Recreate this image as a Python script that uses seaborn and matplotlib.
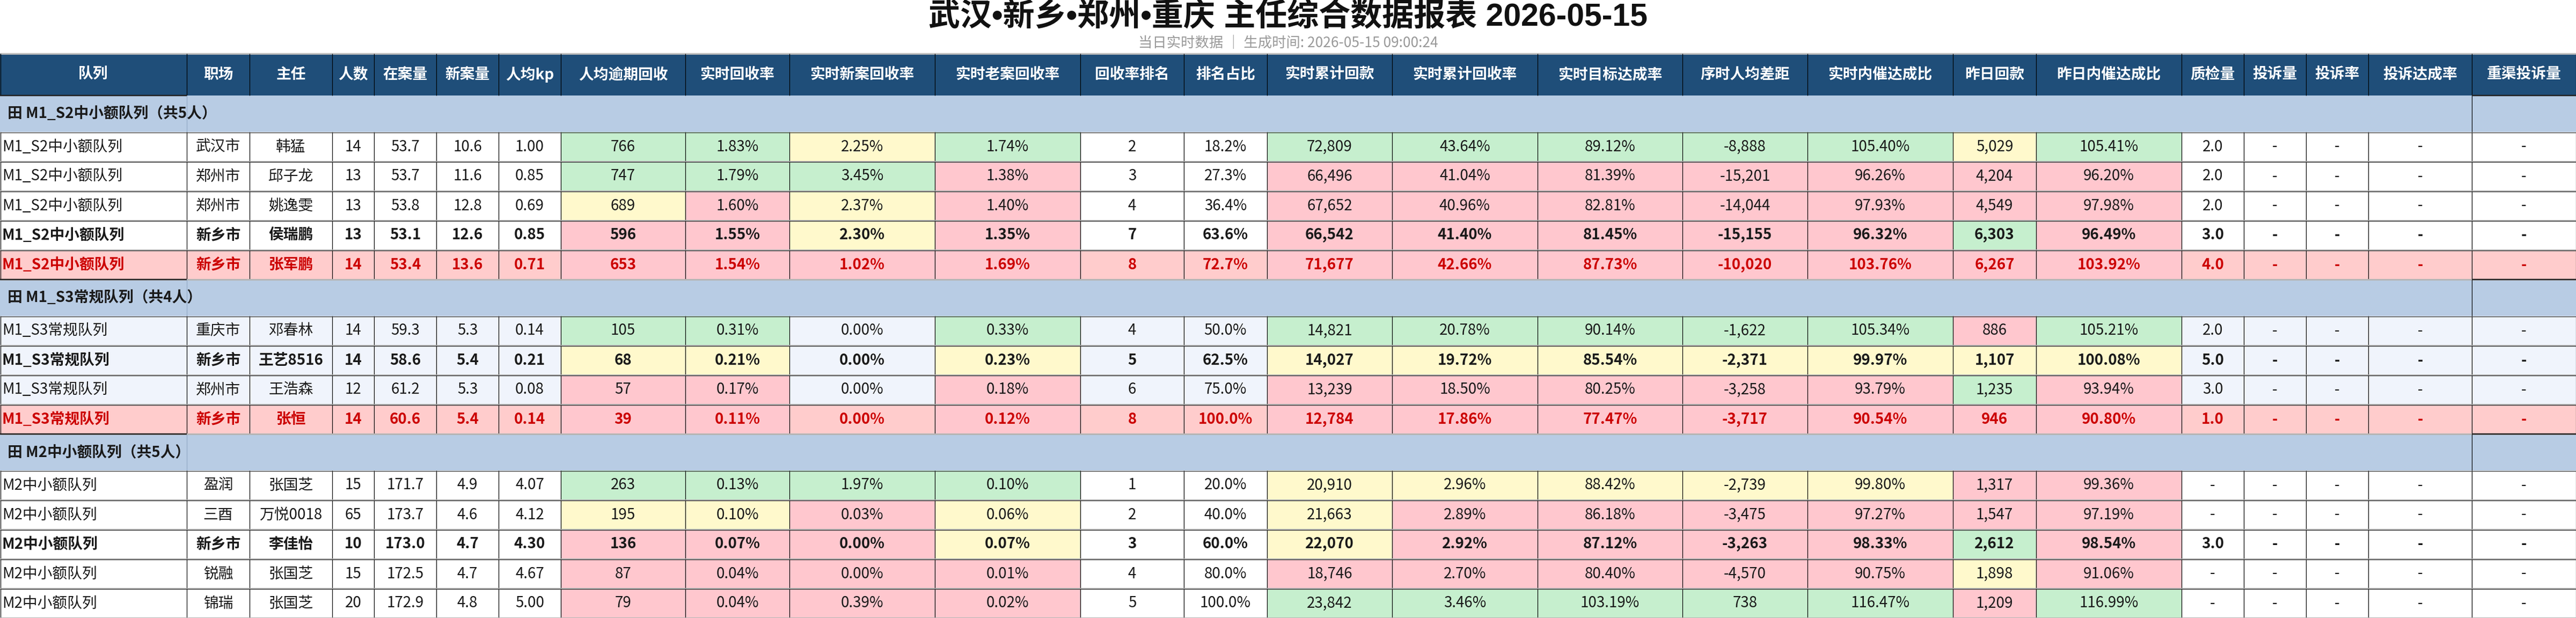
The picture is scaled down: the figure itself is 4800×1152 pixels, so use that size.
import numpy as np
import matplotlib
matplotlib.use("Agg")
import matplotlib.pyplot as plt
import seaborn as sns
from matplotlib.colors import ListedColormap

sns.set_theme(style="white")
plt.rcParams['font.family'] = ['Noto Sans CJK SC', 'DejaVu Sans']

# ---------------- data ----------------
title = "武汉•新乡•郑州•重庆 主任综合数据报表 2026-05-15"
subtitle = "当日实时数据 │ 生成时间: 2026-05-15 09:00:24"

columns = ["队列", "职场", "主任", "人数", "在案量", "新案量", "人均kp", "人均逾期回收",
           "实时回收率", "实时新案回收率", "实时老案回收率", "回收率排名", "排名占比",
           "实时累计回款", "实时累计回收率", "实时目标达成率", "序时人均差距",
           "实时内催达成比", "昨日回款", "昨日内催达成比", "质检量", "投诉量",
           "投诉率", "投诉达成率", "重渠投诉量"]

groups = ["M1_S2中小额队列", "M1_S3常规队列", "M2中小额队列"]
group_sizes = [5, 4, 5]

team = ["M1_S2中小额队列"] * 5 + ["M1_S3常规队列"] * 4 + ["M2中小额队列"] * 5
site = ["武汉市", "郑州市", "郑州市", "新乡市", "新乡市",
        "重庆市", "新乡市", "郑州市", "新乡市",
        "盈润", "三酉", "新乡市", "锐融", "锦瑞"]
leader = ["韩猛", "邱子龙", "姚逸雯", "侯瑞鹏", "张军鹏",
          "邓春林", "王艺8516", "王浩森", "张恒",
          "张国芝", "万悦0018", "李佳怡", "张国芝", "张国芝"]
headcount = [14, 13, 13, 13, 14, 14, 14, 12, 14, 15, 65, 10, 15, 20]
caseload = [53.7, 53.7, 53.8, 53.1, 53.4, 59.3, 58.6, 61.2, 60.6, 171.7, 173.7, 173.0, 172.5, 172.9]
new_cases = [10.6, 11.6, 12.8, 12.6, 13.6, 5.3, 5.4, 5.3, 5.4, 4.9, 4.6, 4.7, 4.7, 4.8]
kp = [1.00, 0.85, 0.69, 0.85, 0.71, 0.14, 0.21, 0.08, 0.14, 4.07, 4.12, 4.30, 4.67, 5.00]
overdue = [766, 747, 689, 596, 653, 105, 68, 57, 39, 263, 195, 136, 87, 79]
rate = [1.83, 1.79, 1.60, 1.55, 1.54, 0.31, 0.21, 0.17, 0.11, 0.13, 0.10, 0.07, 0.04, 0.04]
new_rate = [2.25, 3.45, 2.37, 2.30, 1.02, 0.00, 0.00, 0.00, 0.00, 1.97, 0.03, 0.00, 0.00, 0.39]
old_rate = [1.74, 1.38, 1.40, 1.35, 1.69, 0.33, 0.23, 0.18, 0.12, 0.10, 0.06, 0.07, 0.01, 0.02]
rank = [2, 3, 4, 7, 8, 4, 5, 6, 8, 1, 2, 3, 4, 5]
rank_pct = [18.2, 27.3, 36.4, 63.6, 72.7, 50.0, 62.5, 75.0, 100.0, 20.0, 40.0, 60.0, 80.0, 100.0]
cum_pay = [72809, 66496, 67652, 66542, 71677, 14821, 14027, 13239, 12784, 20910, 21663, 22070, 18746, 23842]
cum_rate = [43.64, 41.04, 40.96, 41.40, 42.66, 20.78, 19.72, 18.50, 17.86, 2.96, 2.89, 2.92, 2.70, 3.46]
target_rate = [89.12, 81.39, 82.81, 81.45, 87.73, 90.14, 85.54, 80.25, 77.47, 88.42, 86.18, 87.12, 80.40, 103.19]
gap = [-8888, -15201, -14044, -15155, -10020, -1622, -2371, -3258, -3717, -2739, -3475, -3263, -4570, 738]
inner_ratio = [105.40, 96.26, 97.93, 96.32, 103.76, 105.34, 99.97, 93.79, 90.54, 99.80, 97.27, 98.33, 90.75, 116.47]
yday_pay = [5029, 4204, 4549, 6303, 6267, 886, 1107, 1235, 946, 1317, 1547, 2612, 1898, 1209]
yday_ratio = [105.41, 96.20, 97.98, 96.49, 103.92, 105.21, 100.08, 93.94, 90.80, 99.36, 97.19, 98.54, 91.06, 116.99]
qc = [2.0, 2.0, 2.0, 3.0, 4.0, 2.0, 5.0, 3.0, 1.0, None, None, 3.0, None, None]
complaints = [None] * 14
complaint_rate = [None] * 14
complaint_target = [None] * 14
rechannel_complaints = [None] * 14

# row emphasis: b = bold (新乡市), r = red highlight
emphasis = ["", "", "", "b", "r", "", "b", "", "r", "", "", "b", "", ""]

# conditional-format grades per column (G good, Y middle, P poor, N none)
grade_overdue = ["G", "G", "Y", "P", "P", "G", "Y", "P", "P", "G", "Y", "P", "P", "P"]
grade_rate = ["G", "G", "P", "P", "P", "G", "Y", "P", "P", "G", "Y", "P", "P", "P"]
grade_new_rate = ["Y", "G", "Y", "Y", "P", "N", "N", "N", "N", "G", "P", "P", "P", "P"]
grade_old_rate = ["G", "P", "P", "P", "P", "G", "Y", "P", "P", "G", "Y", "Y", "P", "P"]
grade_cum_pay = ["G", "P", "P", "P", "P", "G", "Y", "P", "P", "Y", "Y", "Y", "P", "G"]
grade_cum_rate = ["G", "P", "P", "P", "P", "G", "Y", "P", "P", "Y", "P", "P", "P", "G"]
grade_target = ["G", "P", "P", "P", "P", "G", "Y", "P", "P", "Y", "P", "P", "P", "G"]
grade_gap = ["G", "P", "P", "P", "P", "G", "Y", "P", "P", "Y", "P", "P", "P", "G"]
grade_inner = ["G", "P", "P", "P", "P", "G", "Y", "P", "P", "Y", "P", "P", "P", "G"]
grade_yday_pay = ["Y", "P", "P", "G", "P", "P", "Y", "G", "P", "P", "P", "G", "Y", "P"]
grade_yday_ratio = ["G", "P", "P", "P", "P", "G", "Y", "P", "P", "P", "P", "P", "P", "G"]

# ---------------- layout / style ----------------
col_widths = [348, 117, 154, 78, 116, 116, 116, 232, 194, 271, 271, 193, 155, 233,
              271, 270, 233, 271, 155, 271, 116, 116, 116, 193, 194]
W, H = 4800, 1152
TOP, HEAD_H, GROUP_H, ROW_H = 100, 78, 68, 55

C_HEAD = "#1F4E79"
C_GROUP = "#B8CCE4"
C_WHITE = "#FFFFFF"
C_ALT = "#F0F4FC"
C_REDROW = "#FFCCCC"
C_G, C_Y, C_P = "#C6EFCE", "#FFF9CC", "#FFC7CE"
TXT = "#1A1A1A"
RED = "#CC0000"
palette = [C_HEAD, C_GROUP, C_WHITE, C_ALT, C_REDROW, C_G, C_Y, C_P]
pidx = {c: i for i, c in enumerate(palette)}
grade_col = {"G": C_G, "Y": C_Y, "P": C_P}

FS = 20
px = 0.72  # points per pixel at dpi 100


def pct2(v):
    return f"{v:.2f}%"


def dash(v, fmt):
    return "-" if v is None else fmt(v)


cells = [
    (team, None, lambda v: v),
    (site, None, lambda v: v),
    (leader, None, lambda v: v),
    (headcount, None, lambda v: f"{v}"),
    (caseload, None, lambda v: f"{v:.1f}"),
    (new_cases, None, lambda v: f"{v:.1f}"),
    (kp, None, lambda v: f"{v:.2f}"),
    (overdue, grade_overdue, lambda v: f"{v}"),
    (rate, grade_rate, pct2),
    (new_rate, grade_new_rate, pct2),
    (old_rate, grade_old_rate, pct2),
    (rank, None, lambda v: f"{v}"),
    (rank_pct, None, lambda v: f"{v:.1f}%"),
    (cum_pay, grade_cum_pay, lambda v: f"{v:,}"),
    (cum_rate, grade_cum_rate, pct2),
    (target_rate, grade_target, pct2),
    (gap, grade_gap, lambda v: f"{v:,}"),
    (inner_ratio, grade_inner, pct2),
    (yday_pay, grade_yday_pay, lambda v: f"{v:,}"),
    (yday_ratio, grade_yday_ratio, pct2),
    (qc, None, lambda v: dash(v, lambda x: f"{x:.1f}")),
    (complaints, None, lambda v: dash(v, str)),
    (complaint_rate, None, lambda v: dash(v, str)),
    (complaint_target, None, lambda v: dash(v, str)),
    (rechannel_complaints, None, lambda v: dash(v, str)),
]

x_edges = np.concatenate([[0], np.cumsum(col_widths)]).astype(float)
x_edges[-1] = W
ncol = len(columns)

# build row structure
rows = [("header", None)]
k = 0
for gi, (g, n) in enumerate(zip(groups, group_sizes)):
    rows.append(("group", gi))
    for _ in range(n):
        rows.append(("data", (k, gi)))
        k += 1
heights = [HEAD_H if r[0] == "header" else GROUP_H if r[0] == "group" else ROW_H for r in rows]
y_edges = TOP + np.concatenate([[0], np.cumsum(heights)])

C = np.zeros((len(rows), ncol), dtype=int)
for ri, (kind, info) in enumerate(rows):
    if kind == "header":
        C[ri, :] = pidx[C_HEAD]
    elif kind == "group":
        C[ri, :] = pidx[C_GROUP]
    else:
        i, gi = info
        base = C_ALT if gi % 2 == 1 else C_WHITE
        if emphasis[i] == "r":
            base = C_REDROW
        for j, (vals, grades, fmt) in enumerate(cells):
            col = base
            if grades is not None and grades[i] != "N":
                col = C_P if emphasis[i] == "r" else grade_col[grades[i]]
            C[ri, j] = pidx[col]

fig = plt.figure(figsize=(W / 100, H / 100), dpi=100)
ax = fig.add_axes([0, 0, 1, 1])
ax.pcolormesh(x_edges, y_edges, C, cmap=ListedColormap(palette),
              vmin=-0.5, vmax=len(palette) - 0.5, shading="flat")
ax.set_xlim(0, W)
ax.set_ylim(H, 0)
ax.set_axis_off()

# title
ax.text(W / 2, 32, title, ha="center", va="center", fontsize=42.5, fontweight="bold",
        color="#111111", family=['Liberation Sans', 'Noto Sans CJK SC', 'DejaVu Sans'])
ax.text(W / 2, 80, subtitle, ha="center", va="center", fontsize=19, color="#9A9A9A")

# lines
ax.hlines(TOP, 0, W, color="#BBBBBB", lw=3 * px)
for ri, (kind, info) in enumerate(rows):
    y0, y1 = y_edges[ri], y_edges[ri + 1]
    if kind in ("header", "data"):
        ax.vlines(x_edges[1:-1], y0, y1, color="#000000", lw=1.2 * px)
        ax.vlines([0.5, W - 0.5], y0, y1, color="#000000", lw=1.2 * px)
    else:
        ax.vlines([x_edges[1]], y0, y1, color="#93A9C6", lw=1.2 * px)
        ax.vlines([x_edges[-2]], y0, y1, color="#000000", lw=1.2 * px)
        ax.hlines(y0, x_edges[0], x_edges[1], color="#222222", lw=2.5 * px)
        ax.hlines(y0, x_edges[-2], x_edges[-1], color="#222222", lw=2.5 * px)
    if kind == "data":
        ax.hlines(y1, 0, W, color="#B5B5B5", lw=3 * px)
        ax.hlines(y0 + 0.5, 0, W, color="#333333", lw=1.3 * px)

# text
for ri, (kind, info) in enumerate(rows):
    ym = (y_edges[ri] + y_edges[ri + 1]) / 2
    if kind == "header":
        for j, name in enumerate(columns):
            xm = (x_edges[j] + x_edges[j + 1]) / 2
            ax.text(xm, ym, name, ha="center", va="center", fontsize=FS,
                    fontweight="bold", color="white")
    elif kind == "group":
        gi = info
        ax.text(14, ym, f"田 {groups[gi]}（共{group_sizes[gi]}人）", ha="left", va="center",
                fontsize=FS, fontweight="bold", color=TXT)
    else:
        i, gi = info
        emp = emphasis[i]
        color = RED if emp == "r" else TXT
        weight = "bold" if emp in ("b", "r") else "normal"
        for j, (vals, grades, fmt) in enumerate(cells):
            s = fmt(vals[i])
            if j == 0:
                ax.text(4, ym, s, ha="left", va="center", fontsize=FS, color=color, fontweight=weight)
            else:
                xm = (x_edges[j] + x_edges[j + 1]) / 2
                ax.text(xm, ym, s, ha="center", va="center", fontsize=FS, color=color, fontweight=weight)

fig.savefig("out.png", dpi=100)
